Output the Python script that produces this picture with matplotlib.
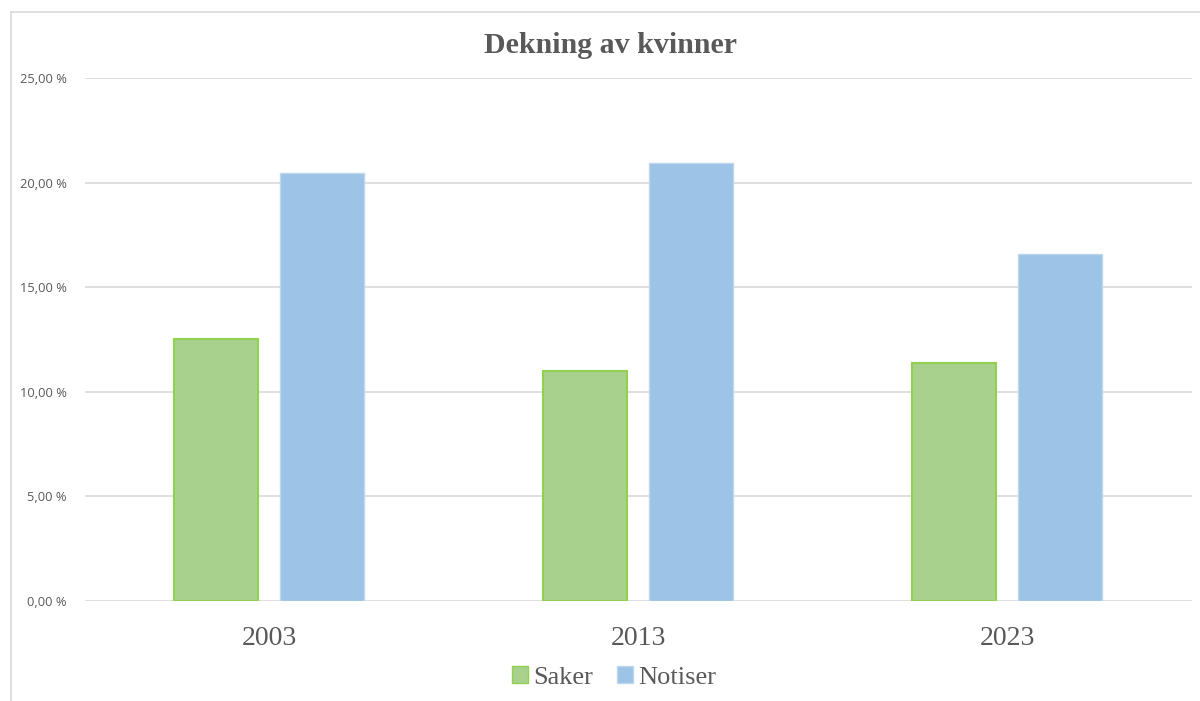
import numpy as np
import matplotlib.pyplot as plt
from matplotlib.lines import Line2D
from matplotlib.patches import Patch

years = ["2003", "2013", "2023"]
saker = [12.52, 10.99, 11.38]
notiser = [20.46, 20.94, 16.59]
yticks = [0, 5, 10, 15, 20, 25]

green, green_edge = "#a9d18e", "#92d050"
blue, blue_edge = "#9dc3e6", "#bdd7ee"
text_grey = "#595959"
serif = ["Liberation Serif", "DejaVu Serif"]

fig = plt.figure(figsize=(12, 7.01), dpi=100)
ax = fig.add_axes([0.0708, 0.1427, 0.9225, 0.746])

x = np.arange(len(years))
w = 0.227
ax.bar(x - 0.144, saker, w, color=green, edgecolor=green_edge, linewidth=1.5, label="Saker", zorder=3)
ax.bar(x + 0.143, notiser, w, color=blue, edgecolor=blue_edge, linewidth=1.0, label="Notiser", zorder=3)

ax.set_xlim(-0.5, 2.5)
ax.set_ylim(0, 25)
ax.set_yticks(yticks)
ax.set_yticklabels([f"{v:.2f}".replace(".", ",") + " %" for v in yticks],
                   fontsize=9.3, color=text_grey, family="Open Sans")
ax.set_xticks(x)
ax.set_xticklabels(years, fontsize=20, color=text_grey, family=serif)
ax.tick_params(axis="both", length=0)
ax.tick_params(axis="y", pad=13)
ax.tick_params(axis="x", pad=18)
ax.grid(axis="y", color="#d9d9d9", linewidth=1.2, zorder=0)
for s in ax.spines.values():
    s.set_visible(False)

fig.text(0.509, 0.935, "Dekning av kvinner", ha="center", va="center",
         fontsize=21.5, fontweight="bold", color=text_grey, family=serif)

handles = [Patch(facecolor=green, edgecolor=green_edge, label="Saker"),
           Patch(facecolor=blue, edgecolor=blue_edge, label="Notiser")]
fig.legend(handles=handles, loc="center", bbox_to_anchor=(0.512, 0.034), ncol=2,
           frameon=False, prop={"family": serif, "size": 19},
           handlelength=0.6, handleheight=0.6, handletextpad=0.2, columnspacing=0.9,
           labelcolor=text_grey)

# outer frame (left and top edges only)
fig.add_artist(Line2D([11 / 1200, 11 / 1200], [0, 689 / 701], color="#d9d9d9", linewidth=1.2))
fig.add_artist(Line2D([11 / 1200, 1], [689 / 701, 689 / 701], color="#d9d9d9", linewidth=1.2))

fig.savefig("out.png", dpi=100)
